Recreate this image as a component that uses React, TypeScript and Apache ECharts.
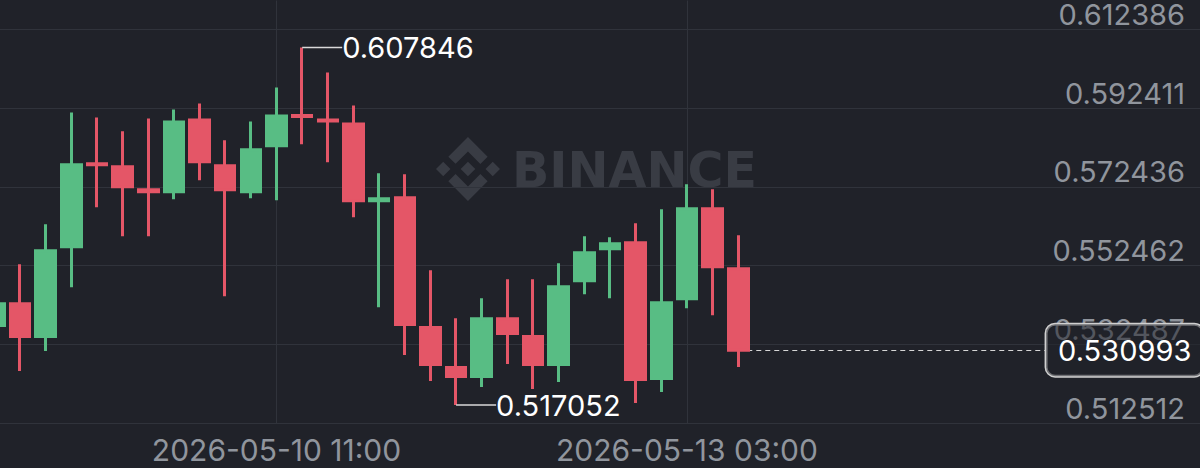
import React, { useEffect, useRef } from 'react';
import * as echarts from 'echarts';

// 4h candles
const times = [
  '2026-05-08 15:00', '2026-05-08 19:00', '2026-05-08 23:00', '2026-05-09 03:00',
  '2026-05-09 07:00', '2026-05-09 11:00', '2026-05-09 15:00', '2026-05-09 19:00',
  '2026-05-09 23:00', '2026-05-10 03:00', '2026-05-10 07:00', '2026-05-10 11:00',
  '2026-05-10 15:00', '2026-05-10 19:00', '2026-05-10 23:00', '2026-05-11 03:00',
  '2026-05-11 07:00', '2026-05-11 11:00', '2026-05-11 15:00', '2026-05-11 19:00',
  '2026-05-11 23:00', '2026-05-12 03:00', '2026-05-12 07:00', '2026-05-12 11:00',
  '2026-05-12 15:00', '2026-05-12 19:00', '2026-05-12 23:00', '2026-05-13 03:00',
  '2026-05-13 07:00', '2026-05-13 11:00',
];
// empty future slots to the right of the last candle
const futureTimes = [
  '2026-05-13 15:00', '2026-05-13 19:00', '2026-05-13 23:00', '2026-05-14 03:00',
  '2026-05-14 07:00', '2026-05-14 11:00', '2026-05-14 15:00', '2026-05-14 19:00',
  '2026-05-14 23:00', '2026-05-15 03:00', '2026-05-15 07:00', '2026-05-15 11:00',
  '2026-05-15 15:00', '2026-05-15 19:00', '2026-05-15 23:00', '2026-05-16 03:00',
  '2026-05-16 07:00', '2026-05-16 11:00',
];

const opens = [
  0.537227, 0.542804, 0.534439, 0.557253, 0.578292, 0.577531, 0.571702, 0.571194,
  0.589446, 0.577785, 0.571194, 0.582855, 0.590586, 0.589446, 0.588432, 0.568913,
  0.569674, 0.536720, 0.526581, 0.524299, 0.539002, 0.534439, 0.527341, 0.548634,
  0.556746, 0.558267, 0.523792, 0.544072, 0.566886, 0.551676,
];
const closes = [
  0.542804, 0.534439, 0.556239, 0.578039, 0.578039, 0.572462, 0.571194, 0.588939,
  0.578799, 0.571702, 0.581840, 0.590459, 0.590332, 0.589192, 0.568913, 0.569420,
  0.537481, 0.527341, 0.524299, 0.539002, 0.535199, 0.527341, 0.547113, 0.555732,
  0.558013, 0.523539, 0.543058, 0.566886, 0.552183, 0.530993,
];
const lows = [
  0.535326, 0.525693, 0.530763, 0.546987, 0.567266, 0.559914, 0.559914, 0.569294,
  0.574109, 0.544705, 0.569546, 0.569039, 0.583235, 0.578672, 0.564731, 0.541917,
  0.529749, 0.523159, 0.517052, 0.521638, 0.527468, 0.521131, 0.522905, 0.545212,
  0.544198, 0.517582, 0.520370, 0.541663, 0.539889, 0.526707,
];
const highs = [
  0.544705, 0.552817, 0.562956, 0.591347, 0.590079, 0.586531, 0.589826, 0.592107,
  0.593628, 0.584249, 0.589065, 0.597683, 0.607846, 0.601486, 0.593122, 0.575885,
  0.575631, 0.551296, 0.539128, 0.544198, 0.549015, 0.549015, 0.553070, 0.559914,
  0.559661, 0.563210, 0.566759, 0.573096, 0.571829, 0.560168,
];

const priceTicks = [0.512512, 0.532487, 0.552462, 0.572436, 0.592411, 0.612386];
const labeledTimes = ['2026-05-10 11:00', '2026-05-13 03:00'];
const lastPrice = 0.530993;

const BG = '#202229';
const GRID = '#30333b';
const TXT = '#90959d';
const UP = '#58bd84';
const DOWN = '#e45667';
const FONT = 'Inter, "Noto Sans", sans-serif';
const WM = '#393c44';

// the chart canvas is 20px wider than the page and starts 20px left of it,
// so that the first (partial) candle can sit slightly outside the view
const SHIFT = 20;

export default function App() {
  const ref = useRef<HTMLDivElement>(null);

  useEffect(() => {
    const chart = echarts.init(ref.current!, null, { renderer: 'svg' });
    const categories = [...times, ...futureTimes];
    const candles = opens.map((o, i) => [o, closes[i], lows[i], highs[i]]);
    let hiIdx = 0;
    let loIdx = 0;
    highs.forEach((h, i) => { if (h > highs[hiIdx]) hiIdx = i; });
    lows.forEach((l, i) => { if (l < lows[loIdx]) loIdx = i; });
    const lastIdx = closes.length - 1;
    const labelIdx = labeledTimes.map((t) => categories.indexOf(t));
    const tagIdx = 41;

    const s = 64 / 126.61;
    chart.setOption({
      animation: false,
      backgroundColor: BG,
      graphic: [
        {
          type: 'group',
          x: 436 + SHIFT,
          y: 137,
          scaleX: s,
          scaleY: s,
          z: -1,
          children: [
            { type: 'polygon', shape: { points: [[38.73, 53.2], [63.3, 28.64], [87.89, 53.22], [102.19, 38.92], [63.3, 0], [24.42, 38.91]] }, style: { fill: WM } },
            { type: 'polygon', shape: { points: [[0, 63.31], [14.3, 49.01], [28.6, 63.31], [14.3, 77.61]] }, style: { fill: WM } },
            { type: 'polygon', shape: { points: [[38.73, 73.41], [63.3, 97.97], [87.89, 73.4], [102.19, 87.69], [63.3, 126.61], [24.42, 87.7]] }, style: { fill: WM } },
            { type: 'polygon', shape: { points: [[97.99, 63.31], [112.3, 49.01], [126.6, 63.3], [112.3, 77.6]] }, style: { fill: WM } },
            { type: 'polygon', shape: { points: [[63.3, 48.78], [77.83, 63.3], [63.3, 77.8], [48.79, 63.28]] }, style: { fill: WM } },
          ],
        },
        {
          type: 'text',
          x: 512 + SHIFT,
          y: 170,
          z: -1,
          style: {
            text: 'BINANCE',
            fill: WM,
            font: 'bold 49px "DejaVu Sans", sans-serif',
            verticalAlign: 'middle',
            align: 'left',
          },
        },
      ],
      grid: { left: SHIFT - 5.64, right: 0, top: 0, bottom: 45 },
      xAxis: {
        type: 'category',
        data: categories,
        boundaryGap: false,
        axisLine: { show: true, lineStyle: { color: GRID, width: 1 } },
        axisTick: { show: false },
        axisLabel: {
          interval: (i: number) => labelIdx.includes(i),
          color: TXT,
          fontSize: 30,
          fontFamily: FONT,
          margin: 12,
        },
        splitLine: {
          show: true,
          interval: (i: number) => labelIdx.includes(i),
          lineStyle: { color: GRID, width: 1 },
        },
      },
      yAxis: {
        type: 'value',
        position: 'right',
        min: priceTicks[0],
        max: 0.619739,
        axisLine: { show: false },
        axisTick: { show: false, customValues: priceTicks },
        axisLabel: {
          inside: true,
          customValues: priceTicks,
          formatter: (v: number) => v.toFixed(6),
          color: TXT,
          fontSize: 29,
          lineHeight: 26,
          padding: [0, 0, 2, 0],
          fontFamily: FONT,
          verticalAlign: 'bottom',
          margin: 15,
          showMinLabel: true,
          showMaxLabel: true,
        },
        splitLine: { show: true, lineStyle: { color: GRID, width: 1 } },
      },
      series: [
        {
          type: 'candlestick',
          data: candles,
          barWidth: 20,
          itemStyle: {
            color: UP,
            color0: DOWN,
            borderColor: UP,
            borderColor0: DOWN,
            borderWidth: 3,
          },
          markPoint: {
            z: 5,
            silent: true,
            symbol: 'rect',
            symbolSize: [40, 1.5],
            symbolOffset: [20, 0],
            itemStyle: { color: '#d9d9d9' },
            label: {
              show: true,
              position: 'right',
              distance: 0,
              formatter: (p: any) => Number(p.value).toFixed(6),
              color: '#ffffff',
              fontSize: 29,
              fontFamily: FONT,
            },
            data: [
              { coord: [hiIdx, highs[hiIdx]], value: highs[hiIdx] },
              { coord: [loIdx, lows[loIdx]], value: lows[loIdx] },
            ],
          },
          markLine: {
            z: 1,
            silent: true,
            symbol: ['none', 'none'],
            lineStyle: { color: '#d6d6d6', type: [5, 4], width: 1.2 },
            label: {
              show: true,
              position: 'end',
              distance: 0,
              formatter: lastPrice.toFixed(6),
              color: '#ffffff',
              fontSize: 29,
              fontFamily: FONT,
              backgroundColor: 'rgba(32,34,41,0.55)',
              borderColor: '#d0d0d0',
              borderWidth: 1.5,
              borderRadius: 9,
              padding: [12, 12, 11, 12],
            },
            data: [[{ coord: [lastIdx, lastPrice] }, { coord: [tagIdx, lastPrice] }]],
          },
        },
      ],
    });
    return () => chart.dispose();
  }, []);

  return (
    <div
      ref={ref}
      style={{ position: 'fixed', left: -SHIFT, top: 0, width: 1200 + SHIFT, height: 468 }}
    />
  );
}
